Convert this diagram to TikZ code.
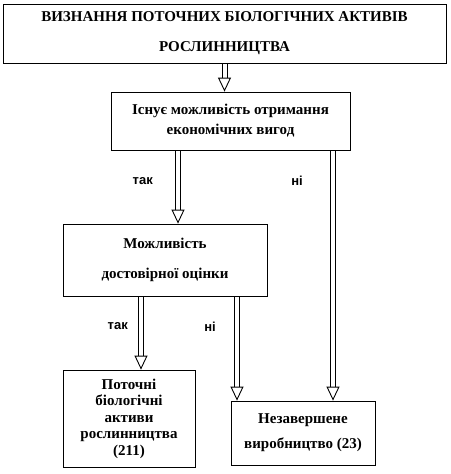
\documentclass[tikz,border=0pt]{standalone}
\usepackage{fontspec}
\setmainfont{Liberation Serif}
\newfontfamily\labelfont{Liberation Sans}
\usetikzlibrary{arrows.meta, decorations.markings}

\begin{document}
\begin{tikzpicture}[
  x=1pt, y=-1pt,
  every node/.style={align=center, inner sep=2pt},
  box/.style={draw, line width=0.8pt, rectangle, font=\bfseries\fontsize{15}{30}\selectfont},
  ans/.style={font=\labelfont\bfseries\fontsize{13}{15}\selectfont, inner sep=0pt},
  dbl/.style={draw=white, line width=4pt, shorten <=1pt, shorten >=13pt,
    preaction={draw=black, line width=6pt, shorten >=13pt},
    postaction={decorate, decoration={markings, mark=at position 1 with
      {\arrow[line width=0.9pt, black]{Triangle[open, length=14pt, width=13pt, fill=white]}}}}}
]
\useasboundingbox (0,0) rectangle (450,474);

\node[box, minimum width=443pt, minimum height=59pt] (top) at (224.5,33.5)
  {ВИЗНАННЯ ПОТОЧНИХ БІОЛОГІЧНИХ АКТИВІВ\\РОСЛИННИЦТВА};
\node[box, minimum width=239pt, minimum height=58pt, font=\bfseries\fontsize{15}{20}\selectfont] (exist) at (230.5,121)
  {Існує можливість отримання\\економічних вигод};
\node[box, minimum width=204pt, minimum height=72pt] (reliable) at (165,260)
  {Можливість\\достовірної оцінки};
\node[box, minimum width=132pt, minimum height=97pt, font=\bfseries\fontsize{15}{16.5}\selectfont] (current) at (129,418.5)
  {Поточні\\біологічні\\активи\\рослинництва\\(211)};
\node[box, minimum width=144pt, minimum height=64pt, font=\bfseries\fontsize{15}{25}\selectfont] (wip) at (303,433)
  {Незавершене\\виробництво (23)};

% переходи між блоками
\draw[dbl] (top.south) -- (top.south |- exist.north);
\draw[dbl] ([xshift=-52.5pt]exist.south) -- ([xshift=13pt]reliable.north);
\draw[dbl] ([xshift=102.5pt]exist.south) -- ([xshift=30pt]wip.north);
\draw[dbl] ([xshift=-24pt]reliable.south) -- ([xshift=12pt]current.north);
\draw[dbl] ([xshift=72pt]reliable.south) -- ([xshift=-66pt]wip.north);

% підписи відповідей
\path ([xshift=-52.5pt]exist.south) -- node[ans, pos=0.42, left=25pt] {так} ([xshift=13pt]reliable.north);
\path ([xshift=102.5pt]exist.south) -- node[ans, pos=0.12, left=30pt] {ні} ([xshift=30pt]wip.north);
\path ([xshift=-24pt]reliable.south) -- node[ans, pos=0.4, left=13pt] {так} ([xshift=12pt]current.north);
\path ([xshift=72pt]reliable.south) -- node[ans, pos=0.29, left=21pt] {ні} ([xshift=-66pt]wip.north);
\end{tikzpicture}
\end{document}
